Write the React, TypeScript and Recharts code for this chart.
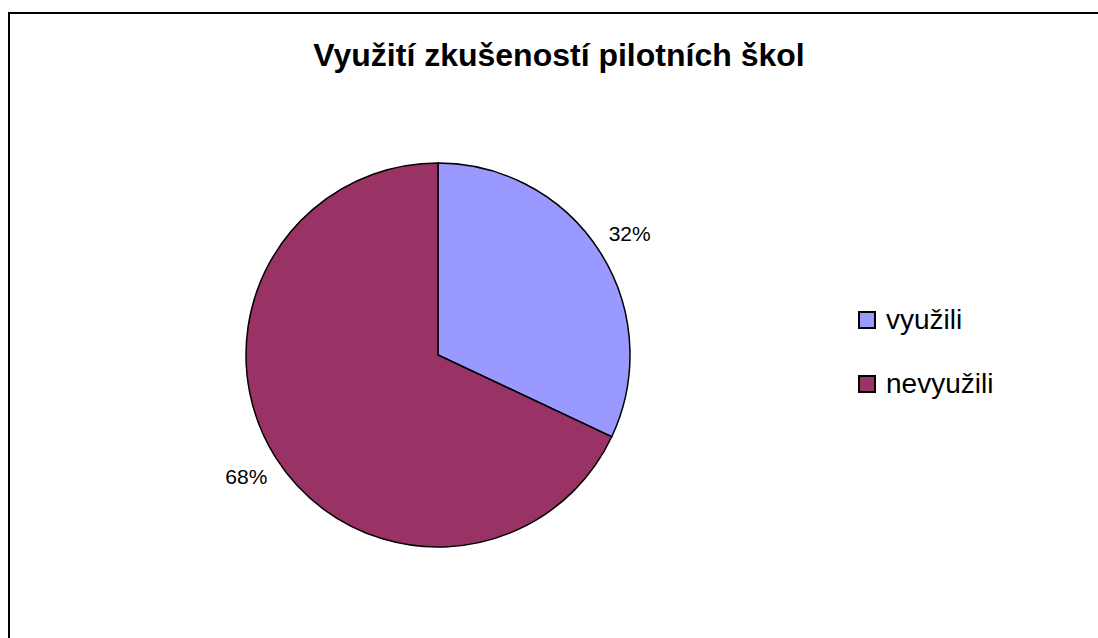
import { PieChart, Pie, Cell, Legend } from 'recharts'

const categories = ['využili', 'nevyužili']
const shares = [32, 68]
const colors = ['#9999FF', '#993366']

const data = categories.map((name, i) => ({ name, value: shares[i] }))

const RADIAN = Math.PI / 180

const renderLabel = (props: any) => {
  const { cx, cy, midAngle, outerRadius, value } = props
  const r = outerRadius + 35
  const x = cx + r * Math.cos(-midAngle * RADIAN)
  const y = cy + r * Math.sin(-midAngle * RADIAN)
  return (
    <text
      x={x}
      y={y}
      textAnchor='middle'
      dominantBaseline='central'
      fontSize={21}
      fill='#000'
      fontFamily='Liberation Sans, Arial, sans-serif'
    >
      {value}%
    </text>
  )
}

const renderLegend = () => (
  <div style={{ fontFamily: 'Liberation Sans, Arial, sans-serif' }}>
    {categories.map((c, i) => (
      <div key={c} style={{ display: 'flex', alignItems: 'center', height: 64 }}>
        <span
          style={{
            display: 'inline-block',
            width: 14,
            height: 14,
            background: colors[i],
            border: '2px solid #000',
            marginRight: 10,
          }}
        />
        <span style={{ fontSize: 28, color: '#000' }}>{c}</span>
      </div>
    ))}
  </div>
)

const App = () => {
  return (
    <div style={{ position: 'absolute', left: 0, top: 0, width: 1098, height: 638, overflow: 'hidden', background: '#fff' }}>
      <div
        style={{
          position: 'absolute',
          left: 8,
          top: 12,
          width: 1120,
          height: 700,
          border: '2px solid #000',
        }}
      />
      <div
        style={{
          position: 'absolute',
          left: 0,
          width: 1118,
          top: 37,
          textAlign: 'center',
          fontFamily: 'Liberation Sans, Arial, sans-serif',
          fontWeight: 'bold',
          fontSize: 32,
        }}
      >
        Využití zkušeností pilotních škol
      </div>
      <div style={{ position: 'absolute', left: 0, top: 0 }}>
        <PieChart width={1098} height={638}>
          <Pie
            data={data}
            dataKey='value'
            nameKey='name'
            cx={433}
            cy={350}
            outerRadius={192}
            startAngle={90}
            endAngle={-270}
            stroke='#000'
            strokeWidth={1.5}
            label={renderLabel}
            labelLine={false}
            isAnimationActive={false}
          >
            {data.map((d, i) => (
              <Cell key={d.name} fill={colors[i]} />
            ))}
          </Pie>
          <Legend
            content={renderLegend}
            wrapperStyle={{ position: 'absolute', left: 858, top: 288, width: 220 }}
          />
        </PieChart>
      </div>
    </div>
  )
}

export default App
